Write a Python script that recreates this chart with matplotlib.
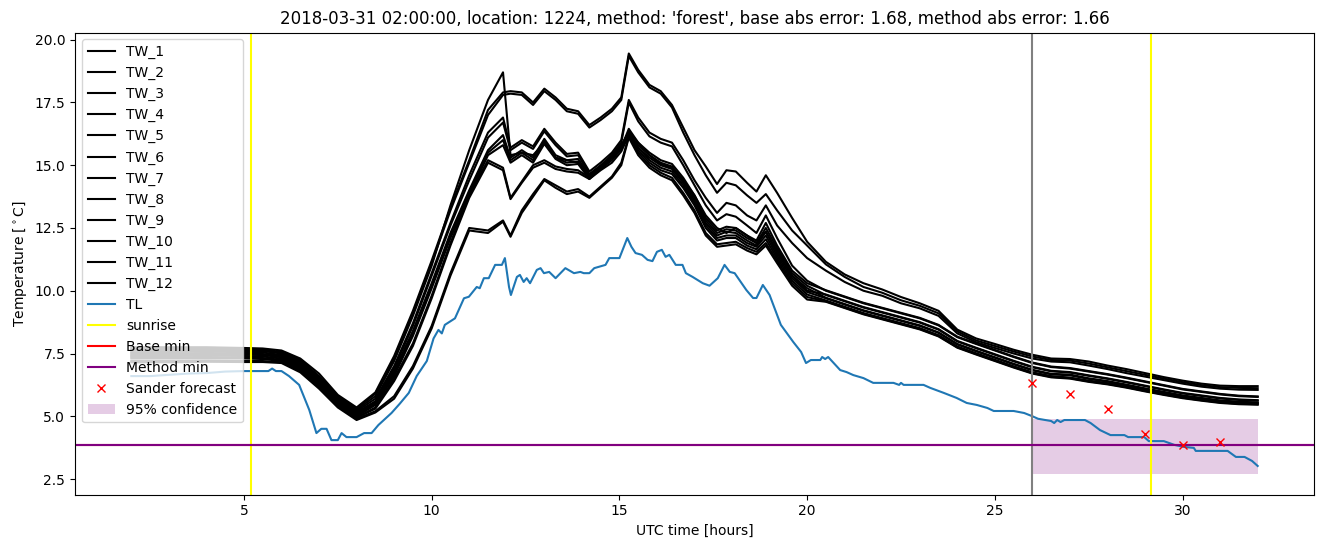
import matplotlib
matplotlib.use("Agg")
import matplotlib.pyplot as plt

# ---------------- data ----------------
T = [2, 3, 4, 5, 5.5, 6, 6.5, 7, 7.5, 8, 8.5, 9, 9.5, 10, 10.5, 11, 11.5,
     11.9, 12.1, 12.4, 12.7, 13.0, 13.3, 13.6, 13.9, 14.2, 14.5, 14.8, 15.05, 15.25,
     15.5, 15.8, 16.1, 16.4, 16.7, 17.0, 17.3, 17.6, 17.85, 18.1, 18.4, 18.65, 18.9, 19.2, 19.6, 20.0,
     20.5, 21, 21.5, 22, 22.5, 23, 23.5, 24, 24.5, 25, 25.5, 26, 26.5, 27, 27.5, 28, 28.5, 29,
     29.5, 30, 30.5, 31, 31.5, 32]

TW_1 = [7.75, 7.75, 7.75, 7.72, 7.7, 7.62, 7.3, 6.7, 5.85, 5.35, 5.95, 7.4, 9.2, 11.2, 13.3, 15.2, 17.2,
        17.9, 17.95, 17.9, 17.5, 18.05, 17.7, 17.25, 17.15, 16.6, 16.9, 17.25, 17.7, 19.45,
        18.8, 18.2, 17.95, 17.4, 16.5, 15.6, 14.95, 14.25, 14.8, 14.75, 14.3, 13.95, 14.6, 13.9, 12.9, 11.95,
        11.15, 10.65, 10.3, 10.05, 9.75, 9.5, 9.2, 8.45, 8.1, 7.88, 7.65, 7.45, 7.3, 7.28, 7.18, 7.02,
        6.88, 6.72, 6.56, 6.42, 6.3, 6.22, 6.2, 6.2]
TW_2 = [7.7, 7.7, 7.72, 7.68, 7.66, 7.56, 7.25, 6.6, 5.8, 5.3, 5.9, 7.3, 9.1, 11.1, 13.2, 15.1, 17.0,
        17.8, 17.85, 17.8, 17.4, 17.95, 17.6, 17.15, 17.05, 16.5, 16.8, 17.15, 17.6, 19.35,
        18.7, 18.1, 17.85, 17.3, 16.3, 15.4, 14.6, 13.9, 14.3, 14.2, 13.8, 13.5, 13.85, 13.2, 12.4, 11.8,
        11.05, 10.55, 10.15, 9.92, 9.62, 9.4, 9.1, 8.38, 8.02, 7.8, 7.58, 7.38, 7.24, 7.22, 7.1, 6.95,
        6.8, 6.65, 6.5, 6.36, 6.24, 6.16, 6.13, 6.12]
TW_3 = [7.62, 7.62, 7.64, 7.6, 7.6, 7.5, 7.15, 6.5, 5.75, 5.25, 5.8, 7.2, 9.0, 11.0, 13.4, 15.6, 17.6,
        18.7, 15.4, 15.5, 15.4, 15.9, 15.3, 15.2, 15.1, 14.6, 14.9, 15.3, 15.7, 16.45,
        15.9, 15.4, 15.05, 14.9, 14.4, 13.8, 13.0, 12.5, 12.3, 12.5, 12.2, 11.9, 12.35, 11.5, 10.6, 10.0,
        9.85, 9.6, 9.35, 9.15, 8.95, 8.75, 8.47, 8.0, 7.73, 7.47, 7.21, 6.97, 6.81, 6.76, 6.63, 6.51,
        6.37, 6.22, 6.07, 5.93, 5.83, 5.73, 5.67, 5.64]
TW_4 = [7.66, 7.66, 7.66, 7.64, 7.62, 7.52, 7.2, 6.55, 5.7, 5.2, 5.7, 7.0, 8.7, 10.7, 12.7, 14.6, 16.3,
        16.9, 15.7, 16.0, 15.75, 16.45, 15.9, 15.45, 15.5, 14.75, 15.1, 15.5, 16.0, 17.6,
        16.9, 16.3, 16.05, 15.9, 15.2, 14.4, 13.7, 13.1, 13.5, 13.4, 13.0, 12.8, 13.4, 12.6, 11.9, 11.3,
        10.8, 10.35, 10.0, 9.8, 9.5, 9.3, 9.0, 8.3, 7.95, 7.72, 7.5, 7.3, 7.18, 7.15, 7.02, 6.88,
        6.72, 6.58, 6.44, 6.3, 6.18, 6.1, 6.06, 6.05]
TW_5 = [7.55, 7.56, 7.58, 7.55, 7.54, 7.44, 7.1, 6.45, 5.65, 5.15, 5.6, 6.9, 8.6, 10.6, 12.6, 14.4, 16.1,
        16.7, 15.6, 15.9, 15.65, 16.35, 15.8, 15.35, 15.4, 14.65, 15.0, 15.4, 15.9, 17.5,
        16.75, 16.15, 15.9, 15.75, 15.0, 14.2, 13.4, 12.8, 13.05, 12.95, 12.6, 12.3, 13.0, 12.1, 11.0, 10.4,
        10.0, 9.75, 9.5, 9.3, 9.1, 8.9, 8.62, 8.15, 7.88, 7.62, 7.36, 7.12, 6.96, 6.9, 6.78, 6.66,
        6.52, 6.37, 6.22, 6.07, 5.97, 5.87, 5.8, 5.77]
TW_6 = [7.5, 7.5, 7.52, 7.5, 7.48, 7.4, 7.05, 6.4, 5.6, 5.1, 5.55, 6.8, 8.4, 10.3, 12.3, 14.0, 15.6,
        16.2, 15.3, 15.6, 15.3, 16.05, 15.4, 15.2, 15.25, 14.6, 14.95, 15.3, 15.75, 16.35,
        15.9, 15.5, 15.2, 15.05, 14.5, 13.8, 12.9, 12.4, 12.55, 12.5, 12.2, 12.0, 12.7, 11.8, 10.8, 10.3,
        10.02, 9.77, 9.52, 9.32, 9.12, 8.92, 8.64, 8.17, 7.9, 7.64, 7.38, 7.14, 6.98, 6.92, 6.8, 6.68,
        6.54, 6.39, 6.24, 6.09, 5.99, 5.89, 5.82, 5.79]
TW_7 = [7.45, 7.45, 7.47, 7.45, 7.44, 7.35, 7.0, 6.35, 5.55, 5.05, 5.5, 6.7, 8.3, 10.2, 12.2, 13.9, 15.5,
        16.0, 15.2, 15.5, 15.2, 15.95, 15.3, 15.1, 15.15, 14.5, 14.85, 15.2, 15.65, 16.25,
        15.8, 15.4, 15.1, 14.95, 14.4, 13.7, 12.8, 12.3, 12.45, 12.4, 12.1, 11.9, 12.5, 11.7, 10.7, 10.2,
        9.83, 9.58, 9.33, 9.13, 8.93, 8.73, 8.45, 7.98, 7.71, 7.45, 7.19, 6.95, 6.79, 6.74, 6.61, 6.49,
        6.35, 6.2, 6.05, 5.91, 5.81, 5.71, 5.65, 5.62]
TW_8 = [7.4, 7.4, 7.42, 7.4, 7.38, 7.3, 6.95, 6.3, 5.5, 5.0, 5.45, 6.6, 8.2, 10.1, 12.1, 13.8, 15.4,
        15.8, 15.1, 15.4, 15.1, 15.85, 15.25, 15.0, 15.05, 14.45, 14.8, 15.1, 15.55, 16.2,
        15.7, 15.3, 15.0, 14.85, 14.3, 13.6, 12.7, 12.2, 12.35, 12.3, 12.0, 11.8, 12.35, 11.6, 10.6, 10.1,
        9.72, 9.47, 9.22, 9.02, 8.82, 8.62, 8.34, 7.88, 7.61, 7.35, 7.09, 6.85, 6.69, 6.66, 6.51, 6.4,
        6.26, 6.11, 5.97, 5.83, 5.73, 5.63, 5.58, 5.55]
TW_9 = [7.35, 7.35, 7.36, 7.34, 7.32, 7.25, 6.9, 6.25, 5.45, 4.95, 5.35, 6.5, 7.9, 9.8, 11.9, 13.8, 15.2,
        14.9, 13.7, 14.35, 15.0, 15.2, 14.95, 14.85, 14.8, 14.5, 14.95, 15.4, 15.8, 16.3,
        15.7, 15.2, 14.9, 14.75, 14.2, 13.5, 12.6, 12.1, 12.2, 12.2, 11.9, 11.75, 12.2, 11.4, 10.5, 9.95,
        9.7, 9.45, 9.2, 9.0, 8.8, 8.6, 8.32, 7.86, 7.59, 7.33, 7.07, 6.83, 6.67, 6.63, 6.49, 6.38,
        6.24, 6.09, 5.95, 5.81, 5.71, 5.61, 5.56, 5.53]
TW_10 = [7.3, 7.3, 7.31, 7.3, 7.28, 7.2, 6.85, 6.2, 5.45, 4.95, 5.3, 6.4, 7.8, 9.7, 11.8, 13.7, 15.1,
         14.8, 13.65, 14.3, 14.9, 15.1, 14.85, 14.75, 14.7, 14.45, 14.85, 15.3, 15.7, 16.25,
         15.6, 15.1, 14.8, 14.65, 14.1, 13.4, 12.5, 12.0, 12.1, 12.1, 11.8, 11.65, 12.05, 11.3, 10.4, 9.85,
         9.61, 9.36, 9.11, 8.91, 8.71, 8.51, 8.23, 7.78, 7.51, 7.25, 6.99, 6.75, 6.6, 6.54, 6.42, 6.32,
         6.19, 6.04, 5.9, 5.77, 5.67, 5.58, 5.53, 5.51]
TW_11 = [7.2, 7.2, 7.22, 7.2, 7.2, 7.15, 6.8, 6.15, 5.4, 4.9, 5.2, 5.8, 7.0, 8.6, 10.7, 12.5, 12.4,
         12.8, 12.2, 13.2, 13.85, 14.45, 14.2, 13.95, 14.05, 13.75, 14.15, 14.55, 15.1, 16.15,
         15.5, 15.0, 14.7, 14.5, 13.9, 13.2, 12.3, 11.85, 11.9, 11.95, 11.7, 11.55, 11.9, 11.2, 10.3, 9.75,
         9.58, 9.33, 9.08, 8.88, 8.68, 8.48, 8.2, 7.75, 7.48, 7.22, 6.96, 6.72, 6.57, 6.52, 6.39, 6.29,
         6.16, 6.01, 5.87, 5.74, 5.64, 5.55, 5.5, 5.48]
TW_12 = [7.15, 7.15, 7.17, 7.16, 7.16, 7.12, 6.75, 6.1, 5.35, 4.85, 5.15, 5.7, 6.9, 8.5, 10.6, 12.4, 12.3,
         12.75, 12.15, 13.1, 13.75, 14.4, 14.1, 13.85, 13.95, 13.7, 14.1, 14.5, 15.0, 16.1,
         15.4, 14.9, 14.6, 14.4, 13.8, 13.1, 12.2, 11.75, 11.8, 11.85, 11.6, 11.45, 11.8, 11.1, 10.2, 9.65,
         9.56, 9.31, 9.06, 8.86, 8.66, 8.46, 8.18, 7.73, 7.46, 7.2, 6.94, 6.7, 6.55, 6.5, 6.37, 6.27,
         6.14, 5.99, 5.85, 5.72, 5.62, 5.53, 5.48, 5.46]

TL_T = [2.0, 2.5, 3.0, 3.5, 4.0, 4.5, 5.0, 5.5, 5.65, 5.75, 5.85, 6.0, 6.2, 6.47, 6.74, 6.93,
        7.06, 7.2, 7.33, 7.5, 7.6, 7.73, 8.0, 8.2, 8.4, 8.58, 8.93, 9.15, 9.39, 9.6, 9.87,
        10.05, 10.18, 10.27, 10.35, 10.62, 10.86, 10.99, 11.2, 11.28, 11.39, 11.52, 11.69,
        11.87, 11.95, 12.06, 12.11, 12.27, 12.35, 12.45, 12.53, 12.62, 12.8, 12.9, 12.99,
        13.13, 13.3, 13.56, 13.79, 13.96, 14.05, 14.2, 14.33, 14.63, 14.73, 15.0, 15.21,
        15.32, 15.43, 15.6, 15.75, 15.88, 16.0, 16.13, 16.23, 16.33, 16.5, 16.68, 16.77,
        16.95, 17.22, 17.4, 17.62, 17.8, 17.94, 18.07, 18.38, 18.56, 18.65, 18.82, 19.0,
        19.3, 19.63, 19.84, 19.97, 20.1, 20.35, 20.4, 20.48, 20.56, 20.88, 21.05, 21.23,
        21.5, 21.76, 22.3, 22.45, 22.5, 22.57, 23.1, 23.28, 23.64, 23.98, 24.25, 24.52,
        24.8, 24.97, 25.5, 25.78, 26.0, 26.15, 26.5, 26.58, 26.66, 26.75, 26.85, 27.4,
        27.55, 27.8, 28.08, 28.45, 28.55, 28.98, 29.1, 29.5, 29.78, 30.03, 30.3, 30.35,
        31.2, 31.42, 31.65, 31.85, 32.0]
TL = [6.6, 6.6, 6.65, 6.7, 6.72, 6.78, 6.8, 6.8, 6.8, 6.9, 6.8, 6.8, 6.6, 6.25, 5.25, 4.33,
      4.5, 4.5, 4.05, 4.05, 4.33, 4.17, 4.17, 4.33, 4.33, 4.65, 5.13, 5.5, 5.93, 6.6, 7.2,
      8.1, 8.44, 8.3, 8.64, 8.9, 9.7, 9.76, 10.15, 10.1, 10.5, 10.5, 11.03,
      11.03, 11.3, 10.15, 9.83, 10.55, 10.63, 10.35, 10.5, 10.3, 10.83, 10.9, 10.7,
      10.75, 10.5, 10.9, 10.7, 10.75, 10.7, 10.7, 10.9, 11.03, 11.3, 11.3, 12.1,
      11.75, 11.5, 11.43, 11.23, 11.18, 11.55, 11.63, 11.35, 11.43, 11.03, 11.03, 10.7,
      10.55, 10.3, 10.2, 10.5, 11.03, 10.75, 10.7, 10.03, 9.71, 9.71, 10.23, 9.83,
      8.64, 7.96, 7.56, 7.12, 7.24, 7.24, 7.36, 7.28, 7.36, 6.84, 6.76, 6.64,
      6.52, 6.33, 6.33, 6.25, 6.33, 6.25, 6.25, 6.13, 5.93, 5.73, 5.53, 5.45,
      5.33, 5.21, 5.21, 5.13, 5.0, 4.9, 4.81, 4.73, 4.85, 4.77, 4.85, 4.85,
      4.73, 4.45, 4.25, 4.25, 4.17, 4.17, 4.01, 4.01, 3.86, 3.78, 3.74, 3.62,
      3.62, 3.38, 3.38, 3.22, 3.02]

TW_SERIES = [TW_1, TW_2, TW_3, TW_4, TW_5, TW_6, TW_7, TW_8, TW_9, TW_10, TW_11, TW_12]
TW_LABELS = ["TW_%d" % (i + 1) for i in range(12)]

SUNRISE = [5.19, 29.17]
FORECAST_START = 26.0
BASE_MIN = 3.85
METHOD_MIN = 3.85
SANDER_T = [26, 27, 28, 29, 30, 31]
SANDER_V = [6.33, 5.89, 5.29, 4.29, 3.86, 3.97]
CONF_T = [26, 32]
CONF_LOW = [2.72, 2.72]
CONF_HIGH = [4.9, 4.9]

TITLE = ("2018-03-31 02:00:00, location: 1224, method: 'forest', "
         "base abs error: 1.68, method abs error: 1.66")

# ---------------- plot ----------------
fig = plt.figure(figsize=(13.24, 5.47), dpi=100)
ax = fig.add_axes([75 / 1324, 1 - 494.5 / 547, (1314 - 75) / 1324, (494.5 - 32.5) / 547])

for vals, lab in zip(TW_SERIES, TW_LABELS):
    ax.plot(T, vals, color="black", label=lab)
ax.plot(TL_T, TL, color="tab:blue", label="TL")
ax.axvline(SUNRISE[0], color="yellow", label="sunrise")
ax.axvline(SUNRISE[1], color="yellow")
ax.axvline(FORECAST_START, color="gray")
ax.axhline(BASE_MIN, color="red", label="Base min")
ax.axhline(METHOD_MIN, color="purple", label="Method min")
ax.plot(SANDER_T, SANDER_V, "x", color="red", linestyle="none", label="Sander forecast")
ax.fill_between(CONF_T, CONF_LOW, CONF_HIGH, color="purple", alpha=0.2,
                linewidth=0, label="95% confidence")

ax.set_title(TITLE)
ax.set_xlabel("UTC time [hours]")
ax.set_ylabel(r"Temperature [$^\circ$C]")
ax.legend(loc="upper left")

fig.savefig("out.png", dpi=100)
